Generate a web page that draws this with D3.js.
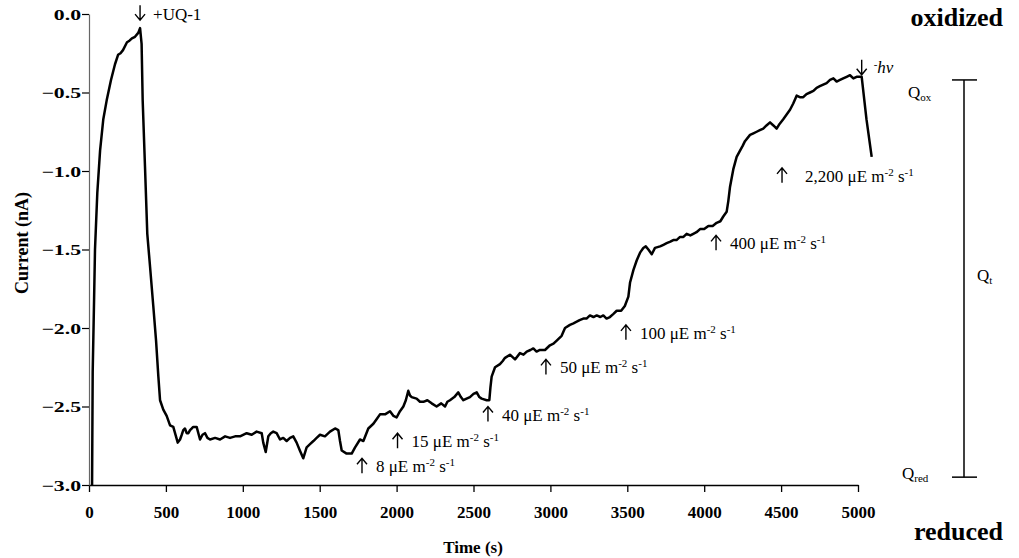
<!DOCTYPE html>
<html>
<head>
<meta charset="utf-8">
<script src="https://cdn.jsdelivr.net/npm/d3@7"></script>
<style>
  body { margin: 0; background: #fff; }
  svg { display: block; }
  text { font-family: "Liberation Serif", "Times New Roman", serif; fill: #000; }
</style>
</head>
<body>
<script>
let timeS = [20, 24, 33, 39, 54, 72, 93, 115, 143, 169, 189, 205, 221, 247, 263, 279, 299, 320, 332, 342,
    349, 364, 379, 397, 418, 436, 451, 462, 483, 505, 527, 548, 577, 592, 603, 613, 624, 635, 646, 657,
    668, 678, 700, 722, 738, 754, 770, 787, 820, 852, 885, 917, 950, 982, 1025, 1058, 1090, 1123, 1133, 1149,
    1166, 1182, 1198, 1220, 1242, 1263, 1285, 1307, 1328, 1350, 1371, 1393, 1415, 1437, 1459, 1480, 1502, 1534, 1567, 1600,
    1621, 1632, 1643, 1675, 1708, 1730, 1762, 1784, 1816, 1849, 1871, 1892, 1925, 1957, 1980, 2000, 2022, 2044, 2060, 2076,
    2087, 2098, 2130, 2152, 2174, 2200, 2228, 2260, 2290, 2315, 2330, 2347, 2375, 2401, 2418, 2434, 2455, 2477, 2500, 2521,
    2538, 2553, 2586, 2603, 2610, 2618, 2640, 2672, 2690, 2705, 2737, 2770, 2802, 2825, 2846, 2870, 2889, 2910, 2932, 2965,
    2997, 3020, 3041, 3073, 3095, 3127, 3150, 3171, 3190, 3214, 3235, 3257, 3280, 3301, 3325, 3344, 3365, 3387, 3410, 3431,
    3460, 3484, 3507, 3518, 3540, 3561, 3583, 3604, 3620, 3637, 3659, 3680, 3713, 3735, 3756, 3780, 3799, 3820, 3843, 3865,
    3886, 3910, 3929, 3950, 3973, 4000, 4027, 4055, 4081, 4105, 4124, 4146, 4157, 4168, 4189, 4211, 4233, 4250, 4265, 4298,
    4320, 4341, 4362, 4384, 4405, 4428, 4450, 4471, 4490, 4514, 4536, 4558, 4579, 4601, 4622, 4644, 4665, 4688, 4710, 4731,
    4752, 4774, 4796, 4818, 4840, 4861, 4883, 4904, 4926, 4948, 4970, 4991, 5024, 5055, 5089];

let currentNA = [-3.00, -2.28, -1.82, -1.50, -1.14, -0.87, -0.67, -0.55, -0.42, -0.32, -0.26, -0.25, -0.23, -0.18, -0.17, -0.155, -0.145, -0.12, -0.09, -0.19,
    -0.55, -0.97, -1.40, -1.61, -1.86, -2.08, -2.31, -2.46, -2.52, -2.56, -2.62, -2.63, -2.73, -2.71, -2.68, -2.65, -2.64, -2.67, -2.67, -2.65,
    -2.64, -2.63, -2.63, -2.71, -2.68, -2.67, -2.70, -2.71, -2.70, -2.71, -2.69, -2.70, -2.69, -2.69, -2.67, -2.68, -2.66, -2.67, -2.73, -2.79,
    -2.69, -2.67, -2.66, -2.67, -2.71, -2.70, -2.72, -2.70, -2.69, -2.73, -2.78, -2.83, -2.76, -2.74, -2.72, -2.70, -2.68, -2.69, -2.66, -2.64,
    -2.65, -2.72, -2.78, -2.80, -2.80, -2.76, -2.71, -2.72, -2.64, -2.61, -2.58, -2.55, -2.55, -2.53, -2.56, -2.57, -2.53, -2.50, -2.46, -2.40,
    -2.43, -2.44, -2.45, -2.47, -2.47, -2.46, -2.48, -2.50, -2.48, -2.50, -2.47, -2.46, -2.44, -2.41, -2.44, -2.46, -2.45, -2.44, -2.42, -2.41,
    -2.44, -2.45, -2.46, -2.46, -2.38, -2.31, -2.25, -2.23, -2.21, -2.19, -2.17, -2.20, -2.16, -2.17, -2.15, -2.14, -2.13, -2.15, -2.14, -2.14,
    -2.11, -2.10, -2.08, -2.05, -2.00, -1.98, -1.97, -1.96, -1.95, -1.94, -1.94, -1.92, -1.93, -1.92, -1.93, -1.92, -1.94, -1.93, -1.91, -1.89,
    -1.89, -1.86, -1.80, -1.71, -1.63, -1.57, -1.52, -1.49, -1.48, -1.50, -1.53, -1.49, -1.48, -1.47, -1.46, -1.45, -1.44, -1.44, -1.42, -1.42,
    -1.40, -1.41, -1.40, -1.39, -1.37, -1.37, -1.35, -1.35, -1.33, -1.32, -1.29, -1.26, -1.19, -1.10, -0.99, -0.91, -0.87, -0.84, -0.81, -0.77,
    -0.76, -0.75, -0.74, -0.73, -0.71, -0.69, -0.71, -0.73, -0.70, -0.67, -0.64, -0.61, -0.57, -0.52, -0.53, -0.53, -0.51, -0.50, -0.49, -0.47,
    -0.46, -0.45, -0.44, -0.42, -0.41, -0.43, -0.42, -0.41, -0.40, -0.39, -0.41, -0.40, -0.40, -0.67, -0.91];

let xTicks = [0, 500, 1000, 1500, 2000, 2500, 3000, 3500, 4000, 4500, 5000];
let yTicks = [0, -0.5, -1.0, -1.5, -2.0, -2.5, -3.0];

// light steps: intensity label, time of the step, where the arrow tip sits (nA)
let lightLevels = ["8", "15", "40", "50", "100", "400", "2,200"];
let lightTimes = [1775, 2006, 2594, 2971, 3491, 4077, 4506];
let lightArrowNA = [-2.83, -2.67, -2.50, -2.20, -1.98, -1.41, -0.98];

// Q bracket levels (nA)
let qOx = -0.42;
let qRed = -2.95;

function main() {
    let svg = d3.select("body").append("svg")
        .attr("width", 1019)
        .attr("height", 558);

    let x = d3.scaleLinear().domain([0, 5000]).range([89, 858]);
    let y = d3.scaleLinear().domain([-3, 0]).range([485, 14]);

    // x axis
    let gx = svg.append("g")
        .attr("transform", `translate(0,${y(-3)})`)
        .call(d3.axisBottom(x).tickValues(xTicks).tickSizeInner(7).tickSizeOuter(0).tickFormat(d => d));
    gx.select(".domain").attr("stroke", "#000").attr("stroke-width", 1.3);
    gx.selectAll(".tick line").attr("stroke", "#000").attr("stroke-width", 1.3);
    gx.selectAll("text")
        .attr("y", 33).attr("dy", 0)
        .style("font-size", "17px").style("font-weight", "bold");

    // y axis (labels drawn wide, as in the original)
    let gy = svg.append("g")
        .attr("transform", `translate(${x(0)},0)`)
        .call(d3.axisLeft(y).tickValues(yTicks).tickSizeInner(7).tickSizeOuter(0).tickFormat(d3.format(".1f")));
    gy.select(".domain").attr("stroke", "#666").attr("stroke-width", 1.2);
    gy.selectAll(".tick line").attr("stroke", "#000").attr("stroke-width", 1.2);
    gy.selectAll("text")
        .attr("x", -8 / 1.45)
        .attr("dy", "0.35em")
        .attr("transform", "scale(1.45,1)")
        .style("font-size", "15px").style("font-weight", "bold");

    // axis titles
    svg.append("text")
        .attr("x", 473).attr("y", 553)
        .attr("text-anchor", "middle")
        .style("font-size", "17px").style("font-weight", "bold")
        .text("Time (s)");

    svg.append("text")
        .attr("transform", "translate(28,243) rotate(-90)")
        .attr("text-anchor", "middle")
        .style("font-size", "18px").style("font-weight", "bold")
        .text("Current (nA)");

    // trace
    let points = timeS.map((t, i) => [t, currentNA[i]]);
    let line = d3.line().x(d => x(d[0])).y(d => y(d[1]));
    svg.append("path")
        .datum(points)
        .attr("fill", "none")
        .attr("stroke", "#000")
        .attr("stroke-width", 2.5)
        .attr("stroke-linejoin", "round")
        .attr("d", line);

    // arrows
    function arrow(cx, tipY, up) {
        let len = 15;
        let p = d3.path();
        if (up) {
            p.moveTo(cx, tipY + len); p.lineTo(cx, tipY);
            p.moveTo(cx - 5, tipY + 6); p.lineTo(cx, tipY); p.lineTo(cx + 5, tipY + 6);
        } else {
            p.moveTo(cx, tipY - len); p.lineTo(cx, tipY);
            p.moveTo(cx - 5, tipY - 6); p.lineTo(cx, tipY); p.lineTo(cx + 5, tipY - 6);
        }
        svg.append("path").attr("d", p.toString())
            .attr("fill", "none").attr("stroke", "#000").attr("stroke-width", 1.4);
    }

    // light intensity labels
    lightLevels.forEach((lev, i) => {
        let cx = x(lightTimes[i]);
        let ty = y(lightArrowNA[i]);
        arrow(cx, ty, true);
        let gap = lev === "2,200" ? 23 : 14;
        let t = svg.append("text")
            .attr("x", cx + gap).attr("y", ty + 14)
            .style("font-size", "17px");
        t.append("tspan").text(lev + " \u03bcE m");
        t.append("tspan").attr("dy", -6).style("font-size", "11px").text("-2");
        t.append("tspan").attr("dy", 6).text(" s");
        t.append("tspan").attr("dy", -6).style("font-size", "11px").text("-1");
    });

    // +UQ-1 and -hv markers
    arrow(x(332), y(-0.09) - 8, false);
    svg.append("text").attr("x", x(332) + 13).attr("y", 20)
        .style("font-size", "17px").text("+UQ-1");

    arrow(x(5024), y(-0.40) - 2, false);
    let hv = svg.append("text").attr("x", x(5024) + 12).attr("y", 73).style("font-size", "17px");
    hv.append("tspan").attr("dy", -5).style("font-size", "11px").text("-");
    hv.append("tspan").attr("dy", 5).style("font-style", "italic").text("hv");

    // Q bracket on the right
    let bx = 964;
    svg.append("line").attr("x1", bx).attr("x2", bx).attr("y1", y(qOx)).attr("y2", y(qRed))
        .attr("stroke", "#000").attr("stroke-width", 1.5);
    [qOx, qRed].forEach(q => {
        svg.append("line").attr("x1", bx - 12).attr("x2", bx + 13).attr("y1", y(q)).attr("y2", y(q))
            .attr("stroke", "#000").attr("stroke-width", 1.5);
    });

    function qLabel(xp, yp, sub) {
        let t = svg.append("text").attr("x", xp).attr("y", yp).style("font-size", "17px");
        t.append("tspan").text("Q");
        t.append("tspan").attr("dy", 3).style("font-size", "11px").text(sub);
    }
    qLabel(908, y(qOx) + 18, "ox");
    qLabel(977, y((qOx + qRed) / 2) + 2, "t");
    qLabel(902, y(qRed) + 2, "red");

    // state labels
    svg.append("text").attr("x", 1003).attr("y", 26).attr("text-anchor", "end")
        .style("font-size", "26px").style("font-weight", "bold").text("oxidized");
    svg.append("text").attr("x", 1003).attr("y", 540).attr("text-anchor", "end")
        .style("font-size", "26px").style("font-weight", "bold").text("reduced");
}

main()
</script>
</body>
</html>
